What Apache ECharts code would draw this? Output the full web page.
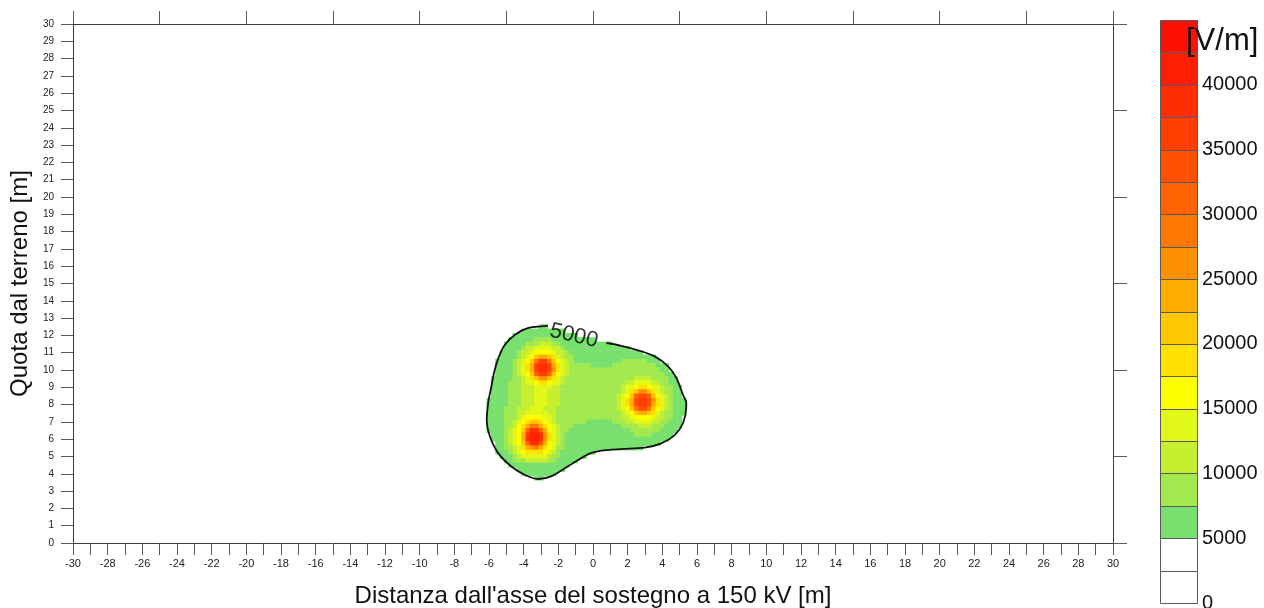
<!DOCTYPE html>
<html>
<head>
<meta charset="utf-8">
<script src="https://cdn.jsdelivr.net/npm/echarts@6/dist/echarts.min.js"></script>
<style>
html,body{margin:0;padding:0;background:#ffffff;}
#chart{width:1264px;height:608px;}
</style>
</head>
<body>
<div id="chart"></div>
<script>
// ---------------- data ----------------
const xTitle = "Distanza dall'asse del sostegno a 150 kV [m]";
const yTitle = 'Quota dal terreno [m]';
const unitTitle = '[V/m]';
const xRange = [-30, 30];
const yRange = [0, 30];

// colour bands of the field (V/m)
const bandLimits = [0, 2500, 5000, 7500, 10000, 12500, 15000, 17500, 20000, 22500,
  25000, 27500, 30000, 32500, 35000, 37500, 40000, 42500, 45000];
const bandColors = ['#ffffff', '#ffffff', '#78e06e', '#a2e94f', '#c6f02f', '#e2f818',
  '#ffff00', '#ffe000', '#ffc800', '#ffad00', '#ff9000', '#ff7600', '#ff6200',
  '#ff5000', '#ff3e00', '#ff2e00', '#ff1e00', '#ff1000'];

// field: band index per 0.25 m cell (base-36 digit)
// each row: [first column index, band codes]; row 0 is y = 12.5, column 0 is x = -6.0
const fieldX0 = -6.0;
const fieldY0 = 12.5;
const fieldStep = 0.25;
const fieldRows = [
  [12, '22'],
  [8, '2222222222'],
  [6, '222222222222222'],
  [5, '222222' + '3333' + '2222222222'],
  [4, '22222' + '333' + '444' + '33' + '222222222222'],
  [4, '2222' + '3' + '44' + '5555' + '44' + '3' + '222222222222222'],
  [3, '2222' + '3' + '44' + '5' + '6666' + '5' + '44' + '3' + '22222222222222222'],
  [3, '2222' + '3456899875433' + '2222222222222222222'],
  [2, '2222' + '34568beeb86543' + '22222222222' + '333333' + '222'],
  [2, '2222' + '34579effe97543' + '3333' + '22222' + '3333333333' + '222'],
  [2, '2222' + '34579effea7543' + '33333333333333333333' + '22'],
  [2, '2222' + '34568ceec86543' + '333333333333333333333' + '22'],
  [1, '22222' + '334578aa875433' + '33333333333333' + '4444' + '3333' + '22'],
  [1, '2222' + '333455677655433' + '333333333333' + '44' + '5555' + '44' + '33' + '22'],
  [1, '2222' + '333444555544333' + '33333333333' + '4556776554' + '33' + '22'],
  [1, '2222' + '333444555444333' + '33333333333' + '4578aa8754' + '33' + '22'],
  [1, '2222' + '333444555444333' + '3333333333' + '4568cddc86543' + '22'],
  [0, '22222' + '333444555444333' + '3333333333' + '4579deeda7543' + '222'],
  [0, '22222' + '333444555444333' + '3333333333' + '4579deed97543' + '222'],
  [0, '2222' + '3334445554443333' + '3333333333' + '4568bddb86543' + '222'],
  [0, '2222' + '3334455555443333' + '3333333333' + '3456899875433' + '222'],
  [0, '2222' + '3334566665543333' + '3333333333' + '3445666654433' + '22'],
  [0, '2222' + '3345678876543333' + '333' + '222222' + '3334455554433' + '222'],
  [0, '2222' + '334679bb97654333' + '22222222222' + '3333444333' + '2222'],
  [0, '2222' + '34568cffc965433' + '22222222222222' + '3333333' + '2222'],
  [1, '222' + '34569eggfa7543' + '2222222222222222' + '3333' + '22222'],
  [1, '222' + '34569fggfa7543' + '222222222222222222222222'],
  [2, '22' + '34568cffd96543' + '2222222222222222222222'],
  [2, '22' + '334579ab976533' + '222222222222222222'],
  [2, '222' + '345677776543' + '22222222'],
  [3, '222' + '34555555433' + '222222'],
  [4, '22' + '3334444433' + '22222'],
  [5, '22222222222222'],
  [7, '22222222222'],
  [8, '22222222'],
  [11, '22']
];

// 5000 V/m iso-line (x, y in m), broken under its label
const contour5000 = [
  [0.77, 11.56], [1.63, 11.40], [2.60, 11.14], [3.56, 10.79], [4.33, 10.21], [4.81, 9.54],
  [5.19, 8.57], [5.38, 8.10], [5.38, 7.88], [5.19, 6.92], [4.71, 6.24], [3.94, 5.76],
  [2.98, 5.51], [1.63, 5.43], [0.48, 5.34], [-0.17, 5.18], [-0.85, 4.80], [-1.62, 4.32],
  [-2.38, 3.87], [-3.16, 3.70], [-3.92, 3.93], [-4.69, 4.41], [-5.46, 5.18], [-5.94, 6.14],
  [-6.13, 7.11], [-6.04, 8.15], [-5.88, 8.96], [-5.69, 9.92], [-5.46, 10.69], [-5.08, 11.46],
  [-4.50, 12.04], [-3.73, 12.43], [-2.87, 12.53], [-2.60, 12.57]
];
const contourLabel = [[-1.10, 11.97, '5000']];

// ---------------- build series data ----------------
const cellData = [];
fieldRows.forEach(function (row, j) {
  const start = row[0], codes = row[1];
  for (let k = 0; k < codes.length; k++) {
    const band = parseInt(codes[k], 36);
    cellData.push([fieldX0 + fieldStep * (start + k), fieldY0 - fieldStep * j, band]);
  }
});
const barData = bandColors.map(function (c, k) { return [0.5, bandLimits[k], bandLimits[k + 1], k]; });

const chart = echarts.init(document.getElementById('chart'), null, {renderer: 'canvas'});
const axisCol = '#3c3c3c';
const tickCol = '#5a5a5a';
const font = 'Liberation Sans';

const option = {
  animation: false,
  backgroundColor: '#ffffff',
  textStyle: {fontFamily: font},
  grid: [
    {left: 73, right: 151, top: 24, bottom: 65, containLabel: false, outerBoundsMode: 'none'},
    {left: 1160, top: 20, width: 37, height: 583, containLabel: false, outerBoundsMode: 'none'}
  ],
  xAxis: [
    {
      type: 'value', gridIndex: 0, position: 'bottom', min: xRange[0], max: xRange[1], interval: 1,
      name: xTitle, nameLocation: 'middle', nameGap: 41,
      nameTextStyle: {fontSize: 24, color: '#111', fontFamily: font},
      axisLine: {show: true, onZero: false, lineStyle: {color: axisCol, width: 1}},
      axisTick: {show: true, length: 12, lineStyle: {color: tickCol}},
      axisLabel: {fontSize: 11, color: '#222', margin: 15,
        formatter: function (v) { return (Math.round(v) % 2 === 0) ? String(Math.round(v)) : ''; }},
      splitLine: {show: false}
    },
    {
      type: 'value', gridIndex: 0, position: 'top', min: xRange[0], max: xRange[1], interval: 5,
      axisLine: {show: true, onZero: false, lineStyle: {color: axisCol, width: 1}},
      axisTick: {show: true, length: 13, lineStyle: {color: tickCol}},
      axisLabel: {show: false}, splitLine: {show: false}
    },
    {type: 'value', gridIndex: 1, min: 0, max: 1, show: false}
  ],
  yAxis: [
    {
      type: 'value', gridIndex: 0, position: 'left', min: yRange[0], max: yRange[1], interval: 1,
      name: yTitle, nameLocation: 'middle', nameGap: 39,
      nameTextStyle: {fontSize: 24, color: '#111', fontFamily: font},
      axisLine: {show: true, onZero: false, lineStyle: {color: axisCol, width: 1}},
      axisTick: {show: true, length: 12, lineStyle: {color: tickCol}},
      axisLabel: {fontSize: 10, color: '#222', margin: 19},
      splitLine: {show: false}
    },
    {
      type: 'value', gridIndex: 0, position: 'right', min: yRange[0], max: yRange[1], interval: 5,
      axisLine: {show: true, onZero: false, lineStyle: {color: axisCol, width: 1}},
      axisTick: {show: true, length: 14, lineStyle: {color: tickCol}},
      axisLabel: {show: false}, splitLine: {show: false}
    },
    {
      type: 'value', gridIndex: 1, position: 'right', min: bandLimits[0], max: bandLimits[bandLimits.length - 1], interval: 5000,
      axisLine: {show: false}, axisTick: {show: false}, splitLine: {show: false},
      axisLabel: {fontSize: 20, color: '#111', margin: 5,
        formatter: function (v) { return v >= 45000 ? '' : String(v); }}
    }
  ],
  graphic: [
    {type: 'text', left: 1186, top: 26, z: 100,
      style: {text: unitTitle, font: '31px "Liberation Sans"', fill: '#111'}}
  ],
  series: [
    {
      type: 'custom', name: 'field', xAxisIndex: 0, yAxisIndex: 0, clip: true,
      encode: {x: 0, y: 1},
      data: cellData,
      renderItem: function (params, api) {
        const x = api.value(0), y = api.value(1), band = api.value(2);
        const h = fieldStep / 2;
        const a = api.coord([x - h, y + h]);
        const b = api.coord([x + h, y - h]);
        return {type: 'rect',
          shape: {x: a[0] - 0.3, y: a[1] - 0.3, width: b[0] - a[0] + 0.6, height: b[1] - a[1] + 0.6},
          style: {fill: bandColors[band]}};
      },
      z: 1
    },
    {
      type: 'line', name: 'iso5000', xAxisIndex: 0, yAxisIndex: 0,
      data: contour5000, showSymbol: false, symbol: 'none', smooth: 0.3,
      lineStyle: {color: '#111', width: 1.8}, z: 3
    },
    {
      type: 'scatter', name: 'isoLabel', xAxisIndex: 0, yAxisIndex: 0,
      data: contourLabel, symbolSize: 1, itemStyle: {color: 'rgba(0,0,0,0)'},
      label: {show: true, position: 'inside', rotate: -13, fontSize: 22, color: '#000',
        fontFamily: font, formatter: function (p) { return p.data[2]; }},
      z: 4
    },
    {
      type: 'custom', name: 'colorbar', xAxisIndex: 2, yAxisIndex: 2,
      encode: {x: 0, y: [1, 2]},
      data: barData,
      renderItem: function (params, api) {
        const lo = api.value(1), hi = api.value(2), k = api.value(3);
        const a = api.coord([0, hi]);
        const b = api.coord([1, lo]);
        return {type: 'rect',
          shape: {x: Math.round(a[0]) + 0.5, y: Math.round(a[1]) + 0.5,
            width: Math.round(b[0]) - Math.round(a[0]), height: Math.round(b[1]) - Math.round(a[1])},
          style: {fill: bandColors[k], stroke: '#5a5a5a', lineWidth: 1}};
      },
      z: 2
    }
  ]
};
chart.setOption(option);
</script>
</body>
</html>
